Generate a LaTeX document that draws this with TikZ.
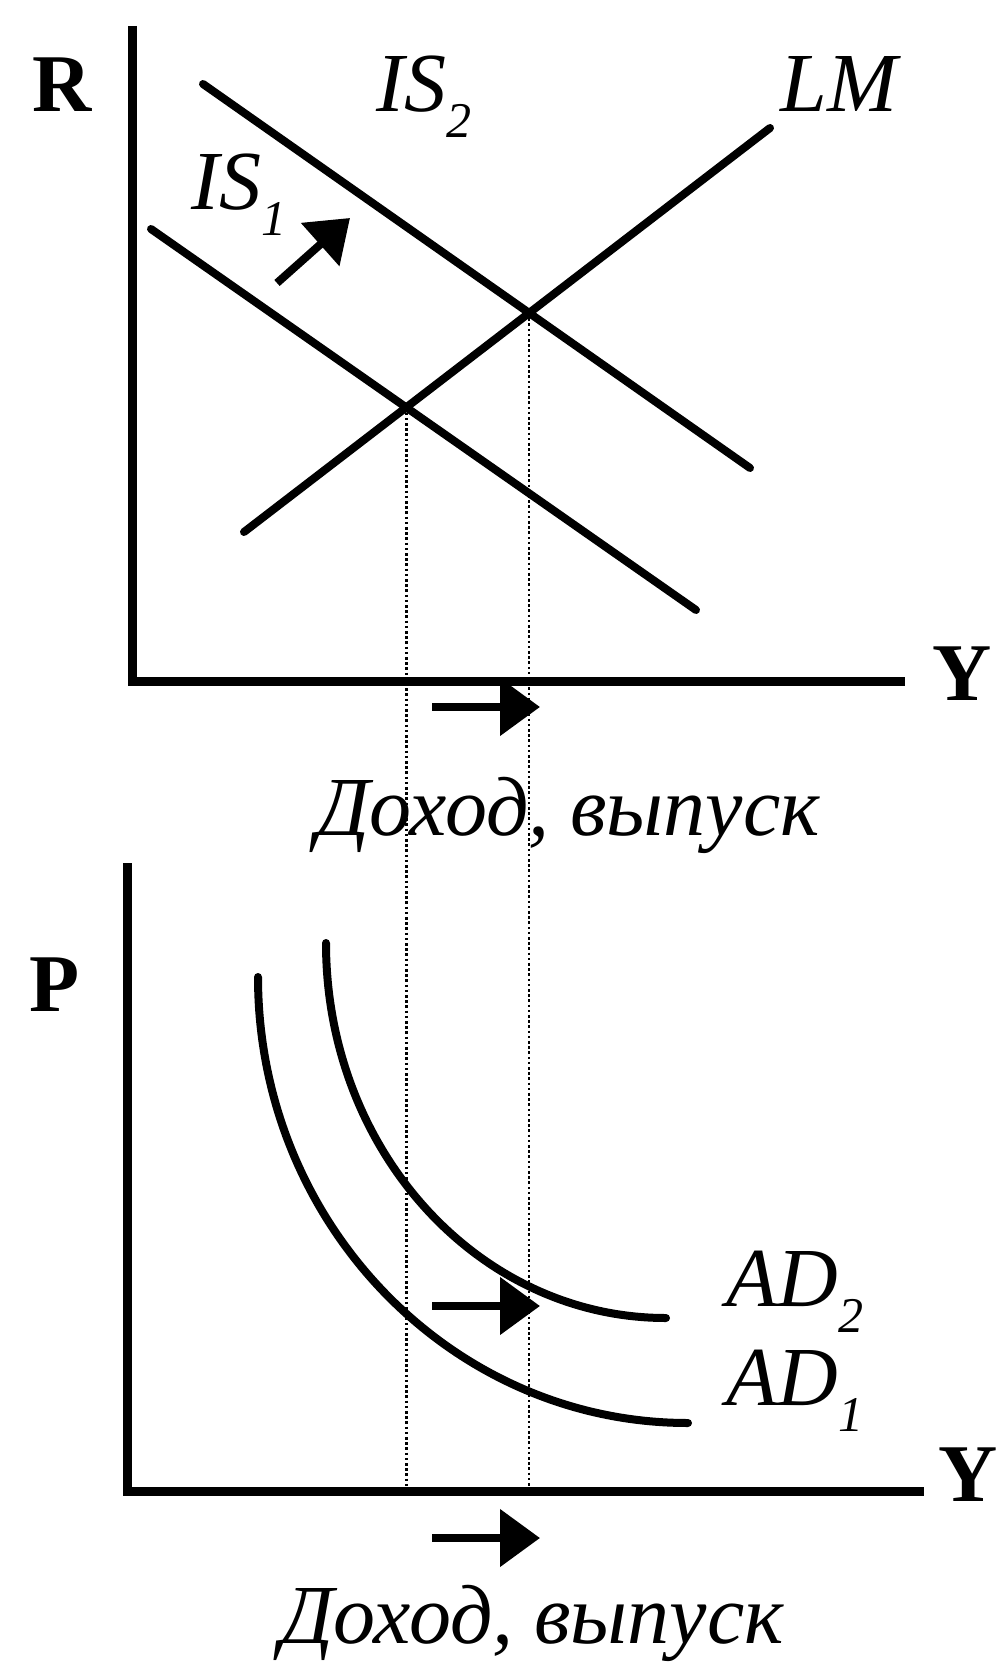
\documentclass[tikz,border=0pt]{standalone}
\usepackage{fontspec}
\setmainfont{Liberation Serif}
\usetikzlibrary{arrows.meta, positioning, calc}

\newcommand{\lowix}[1]{\raisebox{-13pt}{\fontsize{25}{25}\selectfont #1}}

\begin{document}
\begin{tikzpicture}[x=0.5pt, y=-0.5pt,
  axisline/.style={line width=4.5pt},
  econline/.style={line width=4pt, line cap=round},
  guide/.style={line width=1.3pt, dash pattern=on 1.3pt off 1.3pt},
  shiftarrow/.style={line width=4pt, -{Triangle[length=20pt, width=28pt]}},
  axlabel/.style={font=\fontsize{41}{41}\selectfont\bfseries, inner sep=0pt, anchor=base west},
  curvelabel/.style={font=\fontsize{42}{42}\selectfont\itshape, inner sep=0pt, anchor=base west},
  caption/.style={font=\fontsize{42}{50}\selectfont\itshape, inner sep=0pt, anchor=base},
]
  \useasboundingbox (0,0) rectangle (999,1663);

  % IS-LM panel
  \coordinate (O1) at (132,681);
  \coordinate (R1) at (132,26);
  \coordinate (Y1) at (905,681);
  \draw[axisline] (R1) -- (O1) -- (Y1);
  \node[axlabel] (rlab) at (32,112) {R};
  \node[axlabel] (ylab1) at (932,700) {Y};

  \coordinate (IS1a) at (151,229);  \coordinate (IS1b) at (696,610);
  \coordinate (IS2a) at (203,84);   \coordinate (IS2b) at (750,468);
  \coordinate (LMa)  at (244,532);  \coordinate (LMb)  at (770,128);
  \draw[econline] (IS1a) -- (IS1b);
  \draw[econline] (IS2a) -- (IS2b);
  \draw[econline] (LMa) -- (LMb);
  \coordinate (E1) at (intersection of IS1a--IS1b and LMa--LMb);
  \coordinate (E2) at (intersection of IS2a--IS2b and LMa--LMb);

  \node[curvelabel] (is1lab) at (191,210) {IS\lowix{1}};
  \node[curvelabel] (is2lab) at (376,112) {IS\lowix{2}};
  \node[curvelabel] (lmlab) at (780,112) {LM};

  \coordinate (IStail) at (277,283);
  \coordinate (IShead) at (350,218);
  \draw[shiftarrow] (IStail) -- (IShead);

  \node[caption] (inc1) at (568,835) {Доход, выпуск};

  % AD panel
  \coordinate (O2) at (127,1491);
  \coordinate (P2) at (127,863);
  \coordinate (Y2) at (924,1491);
  \draw[axisline] (P2) -- (O2) -- (Y2);
  \node[axlabel] (plab) at (29,1011) {P};
  \node[axlabel] (ylab2) at (938,1501) {Y};

  \coordinate (AD1a) at (258,977);  \coordinate (AD1b) at (688,1423);
  \coordinate (AD2a) at (326,943);  \coordinate (AD2b) at (666,1318);
  \draw[econline] (AD1a) .. controls (258,1223) and (451,1423) .. (AD1b);
  \draw[econline] (AD2a) .. controls (326,1150) and (478,1318) .. (AD2b);
  \node[curvelabel] (ad2lab) at (726,1306) {AD\lowix{2}};
  \node[curvelabel] (ad1lab) at (726,1405) {AD\lowix{1}};

  \node[caption] (inc2) at (532,1643) {Доход, выпуск};

  % guide lines down to the lower axis
  \draw[guide] (E1) -- (E1 |- O2);
  \draw[guide] (E2) -- (E2 |- O2);

  % shifts of output
  \foreach \n/\y in {a/707, b/1306, c/1538} {
    \coordinate (s\n) at (432,\y);
    \coordinate (t\n) at (540,\y);
    \draw[shiftarrow] (s\n) -- (t\n);
  }
\end{tikzpicture}
\end{document}
